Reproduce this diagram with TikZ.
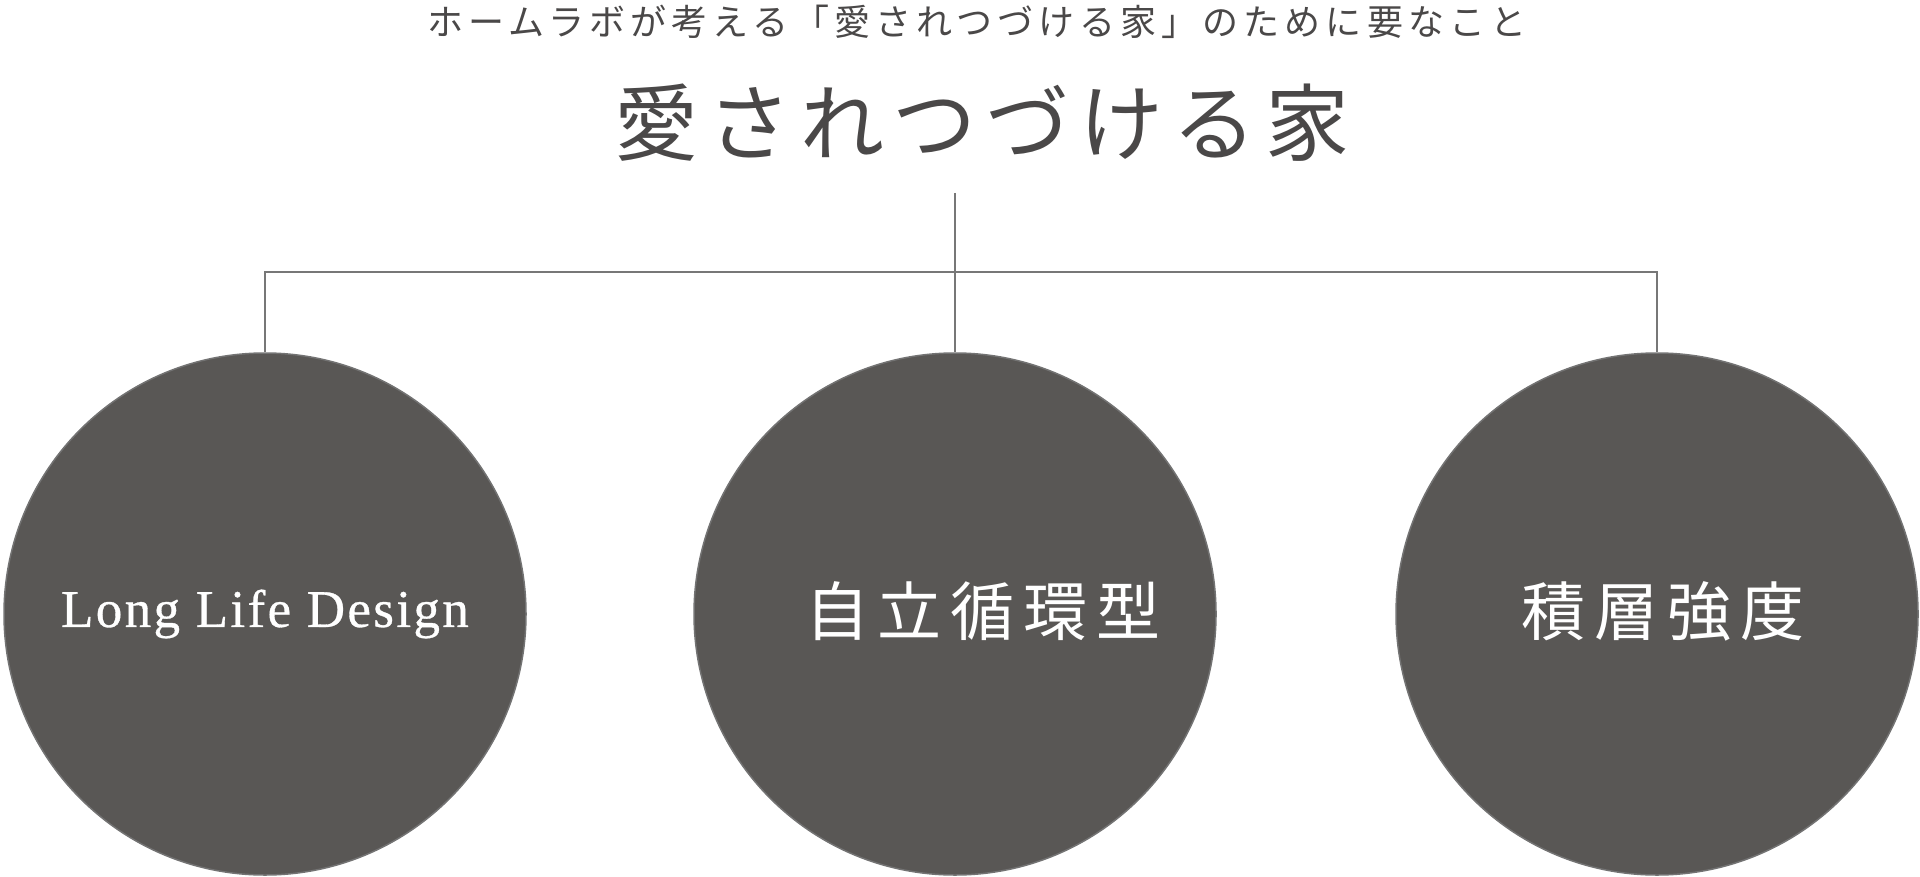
\documentclass[tikz,border=0pt]{standalone}
\usepackage{fontspec}
\setmainfont{Liberation Serif}
\newfontfamily\jpsub[LetterSpace=14]{Noto Sans CJK JP}
\newfontfamily\jptitle[LetterSpace=11]{Noto Sans CJK JP}
\newfontfamily\jplabel[LetterSpace=14]{Noto Sans CJK JP}
\newfontfamily\enlabel[LetterSpace=4.5,FakeBold=0.6]{Liberation Serif}
\definecolor{discfill}{HTML}{595755}
\definecolor{discline}{HTML}{737373}
\definecolor{connline}{HTML}{777777}
\definecolor{headtext}{HTML}{4A4848}

\begin{document}
\begin{tikzpicture}[x=0.5pt,y=-0.5pt,
	disc/.style={circle,draw=discline,fill=discfill,line width=0.75pt,minimum size=261pt,inner sep=0pt},
	conn/.style={draw=connline,line width=0.75pt},
	head/.style={text=headtext,inner sep=0pt},
	lbl/.style={text=white,inner sep=0pt}]
	\useasboundingbox (0,0) rectangle (1920,877);
	% headings
	\node[head,font=\jpsub\fontsize{18pt}{18pt}\selectfont] (sub) at (977,22) {ホームラボが考える「愛されつづける家」のために要なこと};
	\node[head,font=\jptitle\fontsize{42pt}{42pt}\selectfont] (ttl) at (982,123) {愛されつづける家};
	% three discs
	\node[disc] (c1) at (265,614) {};
	\node[disc] (c2) at (955,614) {};
	\node[disc] (c3) at (1657,614) {};
	\node[lbl,font=\enlabel\fontsize{26.5pt}{26.5pt}\selectfont] (l1) at (265,614) {Long Life Design};
	\node[lbl,font=\jplabel\fontsize{32pt}{32pt}\selectfont] (l2) at (983,611) {自立循環型};
	\node[lbl,font=\jplabel\fontsize{32pt}{32pt}\selectfont] (l3) at (1663,611) {積層強度};
	% tree lines
	\coordinate (root) at (955,193);
	\coordinate (bar) at (955,272);
	\draw[conn] (root) -- (c2.north);
	\draw[conn] (c1.north) |- (bar) -| (c3.north);
\end{tikzpicture}
\end{document}
